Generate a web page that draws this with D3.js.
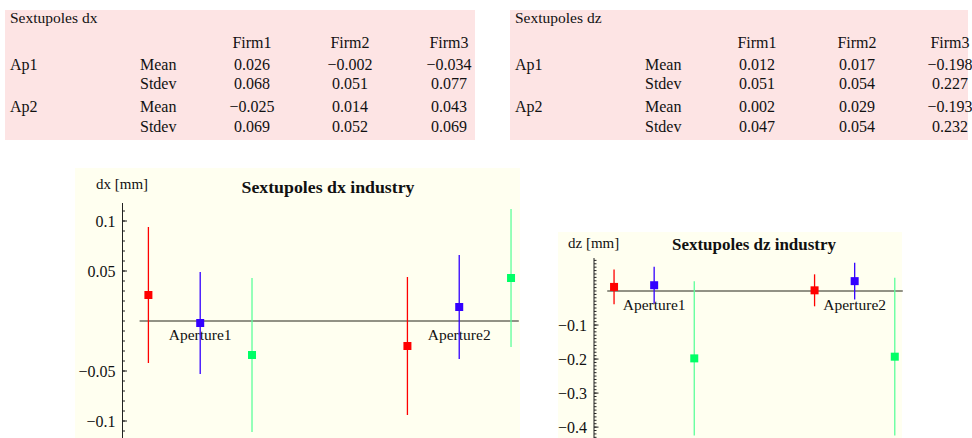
<!DOCTYPE html>
<html><head><meta charset="utf-8">
<script src="https://cdn.jsdelivr.net/npm/d3@7"></script>
<style>
html,body{margin:0;padding:0;background:#fff;}
svg{display:block;}
text{font-family:"Liberation Serif","Times New Roman",serif;fill:#111;}
</style></head>
<body>
<svg id="c" width="972" height="438"></svg>
<script>
// ---- data ----
const firms = ["Firm1", "Firm2", "Firm3"];
const apertures = ["Ap1", "Ap2"];
const groupLabels = ["Aperture1", "Aperture2"];
const statLabels = ["Mean", "Stdev"];
const dxMean  = [[0.026, -0.002, -0.034], [-0.025, 0.014, 0.043]];
const dxStdev = [[0.068, 0.051, 0.077], [0.069, 0.052, 0.069]];
const dzMean  = [[0.012, 0.017, -0.198], [0.002, 0.029, -0.193]];
const dzStdev = [[0.051, 0.054, 0.227], [0.047, 0.054, 0.232]];
const dxTicks = [0.1, 0.05, -0.05, -0.1];
const dzTicks = [-0.1, -0.2, -0.3, -0.4];
const firmColors = ["#ff0000", "#3300ff", "#00ff66"];
const barColors  = ["#ff0000", "#3300ff", "#5cff9a"];

const svg = d3.select("#c");
const fmt3 = d3.format(".3f");
const fmtTick = d3.format("");

// ---- tables ----
function table(x0, width, title, mean, sd, colX) {
  const g = svg.append("g");
  const fs = 16;
  g.append("rect").attr("x", x0).attr("y", 10).attr("width", width).attr("height", 130).attr("fill", "#fde4e4");
  g.append("text").attr("x", x0 + 5).attr("y", 23).attr("font-size", 15.5).text(title);
  firms.forEach((f, i) => g.append("text").attr("x", colX[i]).attr("y", 48).attr("text-anchor", "middle").attr("font-size", fs).text(f));
  const rowY = [[70, 89], [112, 132]];
  apertures.forEach((a, ai) => {
    g.append("text").attr("x", x0 + 5).attr("y", rowY[ai][0]).attr("font-size", fs).text(a);
    [mean, sd].forEach((arr, si) => {
      g.append("text").attr("x", x0 + 135).attr("y", rowY[ai][si]).attr("font-size", fs).text(statLabels[si]);
      arr[ai].forEach((v, fi) => g.append("text").attr("x", colX[fi]).attr("y", rowY[ai][si])
        .attr("text-anchor", "middle").attr("font-size", fs).text(fmt3(v)));
    });
  });
}
table(5, 470, "Sextupoles dx", dxMean, dxStdev, [252, 350, 449]);
table(510, 458, "Sextupoles dz", dzMean, dzStdev, [757, 857, 950]);

// ---- charts ----
function chart(o) {
  const g = svg.append("g");
  g.append("rect").attr("x", o.bg[0]).attr("y", o.bg[1]).attr("width", o.bg[2]).attr("height", o.bg[3]).attr("fill", "#fffff0");
  const x = d3.scaleLinear().domain([0.5, o.xEnd]).range([o.axisX, o.xRight]);
  const y = d3.scaleLinear().domain(o.yDomain).range([438, o.yTop]);
  g.append("line").attr("x1", o.axisX).attr("x2", o.axisX).attr("y1", o.yTop).attr("y2", 438).attr("stroke", "#222").attr("stroke-width", 1);
  g.selectAll(".mt").data(y.ticks(o.minorCount)).join("line")
    .attr("x1", o.axisX).attr("x2", o.axisX + 2.5).attr("y1", d => y(d)).attr("y2", d => y(d))
    .attr("stroke", "#222").attr("stroke-width", 1);
  g.selectAll(".Mt").data(o.ticks).join("line")
    .attr("x1", o.axisX).attr("x2", o.axisX + 4.5).attr("y1", d => y(d)).attr("y2", d => y(d))
    .attr("stroke", "#222").attr("stroke-width", 1);
  g.selectAll(".tl").data(o.ticks).join("text")
    .attr("x", o.axisX - 7).attr("y", d => y(d) + 5.5).attr("text-anchor", "end").attr("font-size", 16)
    .text(d => fmtTick(d));
  g.append("line").attr("x1", x(0.83)).attr("x2", x(o.xEnd)).attr("y1", y(0)).attr("y2", y(0))
    .attr("stroke", "#6e6e62").attr("stroke-width", 1.6);
  g.append("text").attr("x", o.unitX).attr("y", o.unitY).attr("font-size", 15).text(o.unit);
  g.append("text").attr("x", o.titleX).attr("y", o.titleY).attr("text-anchor", "middle")
    .attr("font-size", 16).attr("font-weight", "bold").attr("textLength", o.titleW).attr("lengthAdjust", "spacingAndGlyphs").text(o.title);
  groupLabels.forEach((lab, gi) => g.append("text").attr("x", x(2 + 5 * gi)).attr("y", y(0) + 19)
    .attr("text-anchor", "middle").attr("font-size", 15.5).text(lab));
  const pts = [];
  o.mean.forEach((row, ai) => row.forEach((m, fi) => pts.push({pos: 1 + fi + 5 * ai, m, s: o.sd[ai][fi], fi})));
  g.selectAll(".eb").data(pts).join("line")
    .attr("x1", d => x(d.pos)).attr("x2", d => x(d.pos))
    .attr("y1", d => y(d.m + d.s)).attr("y2", d => y(d.m - d.s))
    .attr("stroke", d => barColors[d.fi]).attr("stroke-width", 1.3);
  g.selectAll(".pt").data(pts).join("rect")
    .attr("x", d => x(d.pos) - 4).attr("y", d => y(d.m) - 4).attr("width", 8).attr("height", 8)
    .attr("fill", d => firmColors[d.fi]);
}

chart({bg: [75, 168, 445, 270], axisX: 122.5, xEnd: 8.15, xRight: 518.8, yDomain: [-0.117, 0.118], yTop: 203,
  minorCount: 20, ticks: dxTicks, mean: dxMean, sd: dxStdev, unit: "dx [mm]", unitX: 96, unitY: 189,
  title: "Sextupoles dx industry", titleX: 328, titleY: 193, titleW: 173});
chart({bg: [558, 232, 344, 206], axisX: 594, xEnd: 8.2, xRight: 902.8, yDomain: [-0.432, 0.097], yTop: 258,
  minorCount: 50, ticks: dzTicks, mean: dzMean, sd: dzStdev, unit: "dz [mm]", unitX: 568, unitY: 247.5,
  title: "Sextupoles dz industry", titleX: 754, titleY: 250, titleW: 164});
</script>
</body></html>
